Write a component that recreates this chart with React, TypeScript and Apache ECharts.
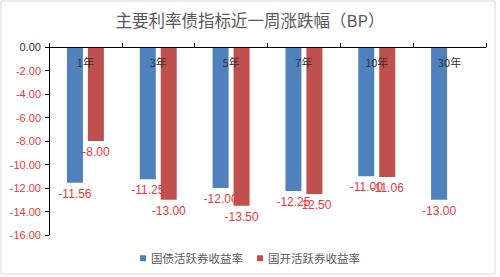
import React, { useEffect, useRef } from "react";
import * as echarts from "echarts";

const categories = ["1年", "3年", "5年", "7年", "10年", "30年"];
const govBond = [-11.56, -11.25, -12.0, -12.25, -11.0, -13.0];
const cdbBond = [-8.0, -13.0, -13.5, -12.5, -11.06, null];
const seriesNames = ["国债活跃券收益率", "国开活跃券收益率"];
const titleText = "主要利率债指标近一周涨跌幅（BP）";

const RED = "#e8383d";
const CJK = "'Noto Sans CJK SC', 'Noto Sans', sans-serif";

export default function App() {
  const ref = useRef<HTMLDivElement>(null);
  useEffect(() => {
    document.body.style.margin = "0";
    const chart = echarts.init(ref.current!, null, { renderer: "svg" });
    const labelCfg = {
      show: true,
      position: "bottom",
      distance: 5,
      color: RED,
      fontSize: 12,
      fontFamily: "'Liberation Sans', sans-serif",
      formatter: (p: any) => Number(p.value).toFixed(2),
    };
    chart.setOption({
      animation: false,
      backgroundColor: "#ffffff",
      title: {
        text: titleText,
        left: "center",
        top: 7,
        textStyle: { fontSize: 16.5, fontWeight: "normal", color: "#595959", fontFamily: CJK },
      },
      graphic: [
        {
          type: "rect",
          shape: { x: 1, y: 1, width: 494, height: 273 },
          style: { fill: "none", stroke: "#d9d9d9", lineWidth: 1 },
          silent: true,
        },
      ],
      legend: {
        bottom: 8,
        left: "center",
        icon: "rect",
        itemWidth: 6,
        itemHeight: 6,
        itemGap: 14,
        textStyle: { fontSize: 11.5, color: "#595959", fontFamily: CJK },
        data: seriesNames,
      },
      grid: { left: 49, right: 14, top: 47, bottom: 42, containLabel: false },
      xAxis: {
        type: "category",
        position: "top",
        data: categories,
        z: 10,
        axisLine: { show: true, lineStyle: { color: "#000", width: 1 } },
        axisTick: { show: true, inside: false, length: 4, lineStyle: { color: "#000" } },
        axisLabel: {
          inside: true,
          margin: 9,
          fontSize: 11,
          color: "#333",
          fontFamily: CJK,
        },
        splitLine: { show: false },
      },
      yAxis: {
        type: "value",
        min: -16,
        max: 0,
        interval: 2,
        axisLine: { show: true, lineStyle: { color: "#000", width: 1 } },
        axisTick: { show: true, length: 4, lineStyle: { color: "#000" } },
        splitLine: { show: false },
        axisLabel: {
          fontSize: 11,
          margin: 8,
          fontFamily: "'Liberation Sans', sans-serif",
          formatter: (v: number) => v.toFixed(2),
          color: (v: any) => (Number(v) === 0 ? "#333" : RED),
        },
      },
      series: [
        {
          name: seriesNames[0],
          type: "bar",
          data: govBond,
          barWidth: 16,
          barGap: "31%",
          itemStyle: { color: "#4f81bd" },
          label: labelCfg,
        },
        {
          name: seriesNames[1],
          type: "bar",
          data: cdbBond,
          barWidth: 16,
          barGap: "31%",
          itemStyle: { color: "#c0504d" },
          label: labelCfg,
        },
      ],
    });
    return () => chart.dispose();
  }, []);
  return <div ref={ref} style={{ width: 500, height: 277 }} />;
}
